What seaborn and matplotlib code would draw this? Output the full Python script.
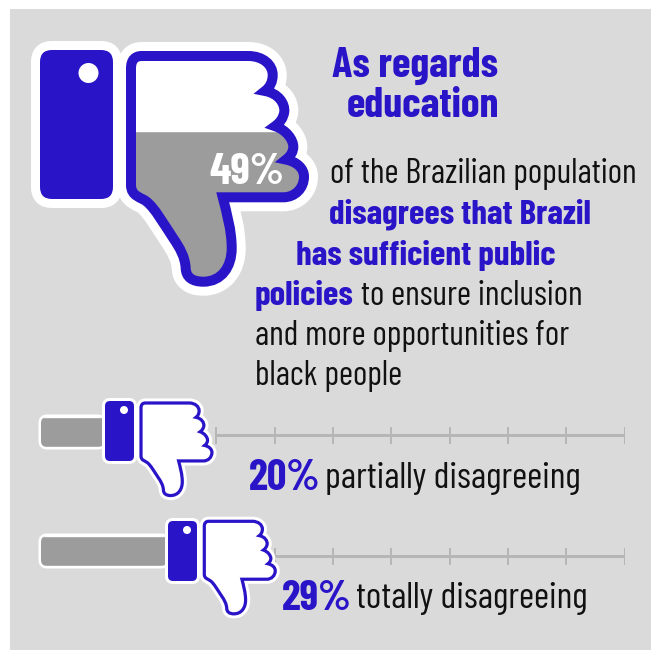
import numpy as np
import matplotlib
matplotlib.use("Agg")
import matplotlib.pyplot as plt
from matplotlib.path import Path
from matplotlib.patches import PathPatch, FancyBboxPatch, Circle, Rectangle
from matplotlib.transforms import Affine2D
import seaborn as sns

W, H = 651, 650
BLUE = "#2a14c8"
GREY = "#9c9c9c"
PANEL = "#dadada"
RULE = "#b6b6b6"
INK = "#111111"

# Survey shares
total_share = [49]
categories = ["partially disagreeing", "totally disagreeing"]
shares = [20, 29]
scale_ticks = [36, 44.4, 52.7, 61, 69.4, 77.7, 86, 94.4]

sns.set_theme(style="white")
plt.rcParams["font.family"] = ["Barlow Condensed", "Liberation Sans", "DejaVu Sans"]

fig = plt.figure(figsize=(W / 100, H / 100), dpi=100, facecolor="white")


def layer(x, y, w, h):
    ax = fig.add_axes([x / W, 1 - (y + h) / H, w / W, h / H])
    ax.patch.set_alpha(0)
    ax.set_axis_off()
    return ax


def pixel_layer():
    ax = layer(0, 0, W, H)
    ax.set_xlim(0, W)
    ax.set_ylim(H, 0)
    return ax


def px(v):
    return v * 0.72


# Outline of the hand, drawn as the centre line of its stroke
hand = [
    (Path.MOVETO, [(131, 68.3)]),
    (Path.CURVE4, [(131, 60), (135, 56), (141.7, 56)]),
    (Path.LINETO, [(248.3, 56)]),
    (Path.CURVE4, [(263.3, 56), (272.7, 65), (272.7, 75)]),
    (Path.CURVE4, [(272.7, 81.7), (270, 87.3), (265, 91)]),
    (Path.CURVE4, [(278.3, 93.3), (285, 103.3), (284.3, 111.7)]),
    (Path.CURVE4, [(283.3, 118.3), (280, 122.7), (275, 126.2)]),
    (Path.CURVE4, [(286.7, 130), (293.3, 140), (293.3, 146.7)]),
    (Path.CURVE4, [(293.3, 151.7), (290.7, 156), (286, 159.6)]),
    (Path.CURVE4, [(296.7, 161.7), (304, 168.3), (304, 176.7)]),
    (Path.CURVE4, [(304, 188.3), (295, 197.3), (283.3, 197.3)]),
    (Path.LINETO, [(222.7, 197.3)]),
    (Path.CURVE4, [(226.7, 213.3), (231.7, 230), (231.7, 248.3)]),
    (Path.CURVE4, [(231.7, 266.7), (221.7, 281.7), (203.3, 281.7)]),
    (Path.CURVE4, [(191.7, 281.7), (186, 276.7), (185.7, 268.3)]),
    (Path.CURVE4, [(185, 256.7), (180, 248.3), (173.3, 238.3)]),
    (Path.CURVE4, [(163.3, 223.3), (155, 208.3), (146.7, 201.7)]),
    (Path.CURVE4, [(141.7, 197.3), (131, 196.7), (131, 185)]),
]
verts, codes = [], []
for code, pts in hand:
    verts += pts
    codes += [code] * len(pts)
verts.append(verts[0])
codes.append(Path.CLOSEPOLY)
HAND = Path(verts, codes)


def place_hand(ax, scale, dx, dy, stroke, halo):
    t = Affine2D().translate(-131, -56).scale(scale).translate(dx, dy)
    p = HAND.transformed(t)
    ax.add_patch(PathPatch(p, fc="white", ec="white", lw=px(stroke + 2 * halo), joinstyle="round"))
    return p


def stroke_hand(ax, p, stroke):
    ax.add_patch(PathPatch(p, fc="none", ec=BLUE, lw=px(stroke), joinstyle="miter"))


def cuff(ax, x0, y0, x1, y1, r, halo, dot):
    box = f"round,pad=0,rounding_size={r}"
    ax.add_patch(FancyBboxPatch((x0, y0), x1 - x0, y1 - y0, boxstyle=box, fc=BLUE,
                                ec="white", lw=px(2 * halo), zorder=2))
    ax.add_patch(FancyBboxPatch((x0, y0), x1 - x0, y1 - y0, boxstyle=box, fc=BLUE,
                                ec="none", zorder=3))
    ax.add_patch(Circle(dot[:2], dot[2], fc="white", ec="none", zorder=4))


def run(ax, x, y, parts):
    """Write coloured pieces one after another along a baseline."""
    r = fig.canvas.get_renderer()
    for s, color, weight, size in parts:
        t = ax.text(x, y, s, color=color, fontsize=size, fontweight=weight,
                    ha="left", va="baseline", zorder=10)
        x = ax.transData.inverted().transform(t.get_window_extent(r).p1)[0]


# Background panel
back = pixel_layer()
back.add_patch(Rectangle((10, 9), W - 10, H - 9, fc=PANEL, ec="none"))
big = place_hand(back, 1, 131, 56, 10, 9)

# Rounded gauge troughs, sized from the shares through the gauge scale
BAR_Y = [432, 551]
PX_PER_PCT = 7
GAUGE_X0, GAUGE_X1 = 41, 625
BASE = 11
gauge = layer(GAUGE_X0, 372.5, GAUGE_X1 - GAUGE_X0, 238)
sns.barplot(x=shares, y=categories, orient="h", color=GREY, saturation=1,
            width=30 / 119, ax=gauge)
gauge.set_xlim(BASE, BASE + (GAUGE_X1 - GAUGE_X0) / PX_PER_PCT)
gauge.set_ylim(1.5, -0.5)
gauge.set_axis_off()
gauge.patch.set_alpha(0)
for i, bar in enumerate(gauge.patches):
    end = GAUGE_X0 + (bar.get_width() - BASE) * PX_PER_PCT
    shape = FancyBboxPatch((GAUGE_X0, BAR_Y[i] - 15), end - GAUGE_X0, 30,
                           boxstyle="round,pad=0,rounding_size=6", fc=GREY, ec="white", lw=px(5))
    back.add_patch(shape)
    bar.set_clip_path(shape)

# Scale rules beside the gauges
RULE_OFFSET = [3 / 119, 5 / 119]
for i in range(len(shares)):
    y = i + RULE_OFFSET[i]
    gauge.hlines(y, scale_ticks[0], scale_ticks[-1], color=RULE, lw=px(3), zorder=1)
    gauge.vlines(scale_ticks, y - 8.5 / 119, y + 8.5 / 119, color=RULE, lw=px(2), zorder=1)

# Level of the large hand, raised to the overall share
fill = layer(120, 131, 200, 151)
sns.barplot(x=["all"], y=total_share, color=GREY, saturation=1, width=1, ax=fill)
fill.set_xlim(-0.5, 0.5)
fill.set_ylim(0, total_share[0])
fill.set_axis_off()
fill.patch.set_alpha(0)
clip = PathPatch(big, fc="none", ec="none")
back.add_patch(clip)
for bar in fill.patches:
    bar.set_clip_path(clip)

front = pixel_layer()
stroke_hand(front, big, 10)
cuff(front, 40, 50, 113, 199, 12, 9, (88.5, 73, 10))

# Small hands on the gauges
small_hands = [(141, 403, (105, 401, 134, 461), (124, 410, 4)),
               (204.3, 521.3, (168, 521, 197, 581), (187, 530, 4))]
for dx, dy, c, dot in small_hands:
    p = place_hand(front, 0.41, dx, dy, 3.2, 3)
    stroke_hand(front, p, 3.2)
    cuff(front, c[0], c[1], c[2], c[3], 5, 3, dot)

# Text
HEAD = 30.5
front.text(415, 77, "As regards", color=BLUE, fontsize=HEAD, fontweight="bold", ha="center", va="baseline")
front.text(423, 117, "education", color=BLUE, fontsize=HEAD, fontweight="bold", ha="center", va="baseline")
front.text(246.5, 184, f"{total_share[0]}%", color="white", fontsize=32, fontweight="bold",
           ha="center", va="baseline", zorder=10)

BODY = 24.7
BOLD = 25.2
ROW = 26.6
run(front, 330, 183, [("of the Brazilian population", INK, "normal", BODY)])
run(front, 329, 224, [("disagrees that Brazil", BLUE, "bold", BOLD)])
run(front, 296, 265, [("has sufficient public", BLUE, "bold", BOLD)])
run(front, 255, 305, [("policies", BLUE, "bold", BOLD), (" to ensure inclusion", INK, "normal", BODY)])
run(front, 255, 345, [("and more opportunities for", INK, "normal", BODY)])
run(front, 255, 385, [("black people", INK, "normal", BODY)])

run(front, 249, 490, [(f"{shares[0]}%", BLUE, "bold", 31)])
run(front, 325, 488, [("partially disagreeing", INK, "normal", ROW)])
run(front, 282, 610, [(f"{shares[1]}%", BLUE, "bold", 30.5)])
run(front, 356, 608, [("totally disagreeing", INK, "normal", ROW)])

fig.savefig("out.png", dpi=100, facecolor="white")
